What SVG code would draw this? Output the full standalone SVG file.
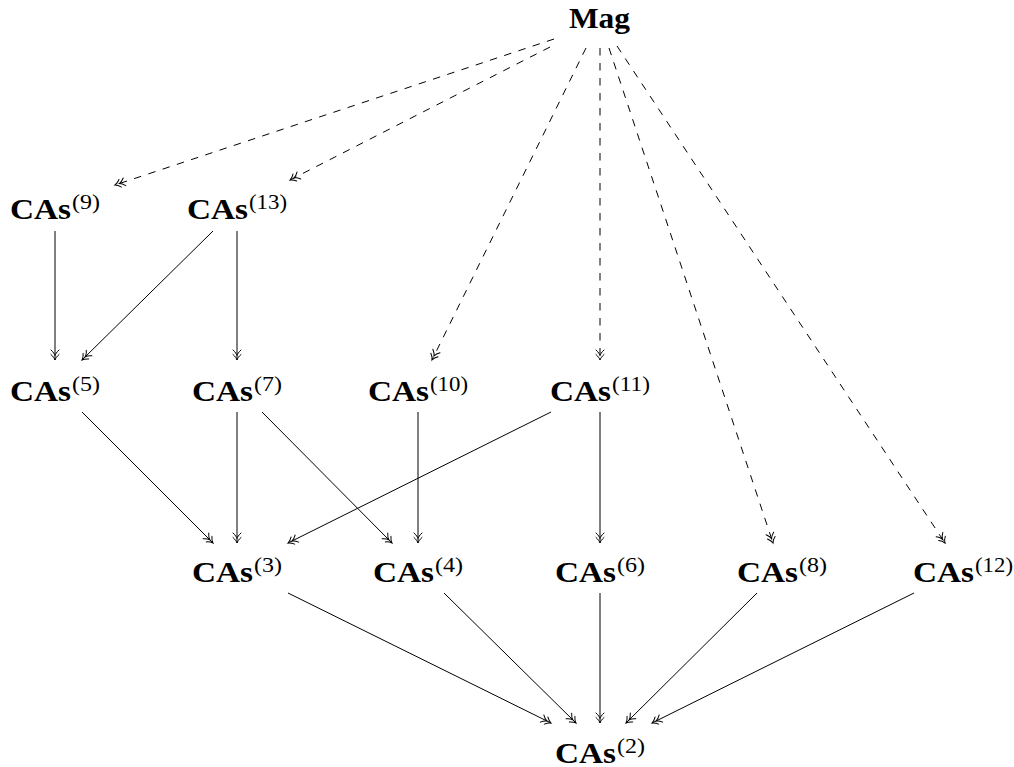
<svg xmlns="http://www.w3.org/2000/svg" width="1014" height="767" viewBox="0 0 1014 767">
<style>
.m{font-family:"Liberation Serif","Times New Roman",serif;font-weight:bold;font-size:29px;fill:#000}
.s{font-family:"Liberation Serif","Times New Roman",serif;font-size:21.5px;fill:#000}
.e line{stroke:#000;stroke-width:1;fill:none;marker-end:url(#dh)}
.e .d{stroke-dasharray:7.5 7.5}
</style>
<defs>
<marker id="dh" markerWidth="16" markerHeight="12" viewBox="-14 -6 16 12" refX="0" refY="0" orient="auto" markerUnits="userSpaceOnUse">
<path d="M-5.5,-4 C-3.5,-1.6 -1.2,-0.4 0,0 C-1.2,0.4 -3.5,1.6 -5.5,4 M-10,-4 C-8,-1.6 -5.7,-0.4 -4.5,0 C-5.7,0.4 -8,1.6 -10,4" fill="none" stroke="#000" stroke-width="1" stroke-dasharray="none" stroke-linecap="round"/>
</marker>
</defs>
<rect width="1014" height="767" fill="#fff"/>
<g id="edges" class="e">
<line class="d" x1="554" y1="39" x2="115" y2="185"/>
<line class="d" x1="550" y1="47" x2="290" y2="180"/>
<line class="d" x1="586" y1="48" x2="432" y2="360"/>
<line class="d" x1="600" y1="48" x2="600" y2="360"/>
<line class="d" x1="609" y1="48" x2="773" y2="543"/>
<line class="d" x1="617" y1="46" x2="945" y2="543"/>
<line x1="55" y1="231" x2="55" y2="360"/>
<line x1="213" y1="231" x2="82" y2="360"/>
<line x1="237" y1="231" x2="237" y2="360"/>
<line x1="82" y1="412" x2="213" y2="543"/>
<line x1="237" y1="412" x2="237" y2="543"/>
<line x1="262" y1="412" x2="392" y2="543"/>
<line x1="551" y1="412" x2="288" y2="543"/>
<line x1="418" y1="412" x2="418" y2="543"/>
<line x1="600" y1="412" x2="600" y2="543"/>
<line x1="288" y1="593" x2="551" y2="723"/>
<line x1="444" y1="593" x2="576" y2="723"/>
<line x1="600" y1="593" x2="600" y2="723"/>
<line x1="757" y1="593" x2="626" y2="723"/>
<line x1="914" y1="593" x2="652" y2="723"/>
</g>
<g id="mag"><text class="m" x="569" y="28" textLength="61" lengthAdjust="spacingAndGlyphs">Mag</text></g>
<g id="cas9"><text class="m" x="10" y="219" textLength="61" lengthAdjust="spacingAndGlyphs">CAs</text><text class="s" x="72" y="209" textLength="28" lengthAdjust="spacingAndGlyphs">(9)</text></g>
<g id="cas13"><text class="m" x="187" y="219" textLength="61" lengthAdjust="spacingAndGlyphs">CAs</text><text class="s" x="249" y="209" textLength="38" lengthAdjust="spacingAndGlyphs">(13)</text></g>
<g id="cas5"><text class="m" x="10" y="401" textLength="61" lengthAdjust="spacingAndGlyphs">CAs</text><text class="s" x="72" y="391" textLength="28" lengthAdjust="spacingAndGlyphs">(5)</text></g>
<g id="cas7"><text class="m" x="192" y="401" textLength="61" lengthAdjust="spacingAndGlyphs">CAs</text><text class="s" x="254" y="391" textLength="28" lengthAdjust="spacingAndGlyphs">(7)</text></g>
<g id="cas10"><text class="m" x="368" y="401" textLength="61" lengthAdjust="spacingAndGlyphs">CAs</text><text class="s" x="430" y="391" textLength="38" lengthAdjust="spacingAndGlyphs">(10)</text></g>
<g id="cas11"><text class="m" x="550" y="401" textLength="61" lengthAdjust="spacingAndGlyphs">CAs</text><text class="s" x="612" y="391" textLength="38" lengthAdjust="spacingAndGlyphs">(11)</text></g>
<g id="cas3"><text class="m" x="192" y="582" textLength="61" lengthAdjust="spacingAndGlyphs">CAs</text><text class="s" x="254" y="572" textLength="28" lengthAdjust="spacingAndGlyphs">(3)</text></g>
<g id="cas4"><text class="m" x="373" y="582" textLength="61" lengthAdjust="spacingAndGlyphs">CAs</text><text class="s" x="435" y="572" textLength="28" lengthAdjust="spacingAndGlyphs">(4)</text></g>
<g id="cas6"><text class="m" x="555" y="582" textLength="61" lengthAdjust="spacingAndGlyphs">CAs</text><text class="s" x="617" y="572" textLength="28" lengthAdjust="spacingAndGlyphs">(6)</text></g>
<g id="cas8"><text class="m" x="737" y="582" textLength="61" lengthAdjust="spacingAndGlyphs">CAs</text><text class="s" x="799" y="572" textLength="28" lengthAdjust="spacingAndGlyphs">(8)</text></g>
<g id="cas12"><text class="m" x="913" y="582" textLength="61" lengthAdjust="spacingAndGlyphs">CAs</text><text class="s" x="975" y="572" textLength="38" lengthAdjust="spacingAndGlyphs">(12)</text></g>
<g id="cas2"><text class="m" x="555" y="763" textLength="61" lengthAdjust="spacingAndGlyphs">CAs</text><text class="s" x="617" y="753" textLength="28" lengthAdjust="spacingAndGlyphs">(2)</text></g>
</svg>
